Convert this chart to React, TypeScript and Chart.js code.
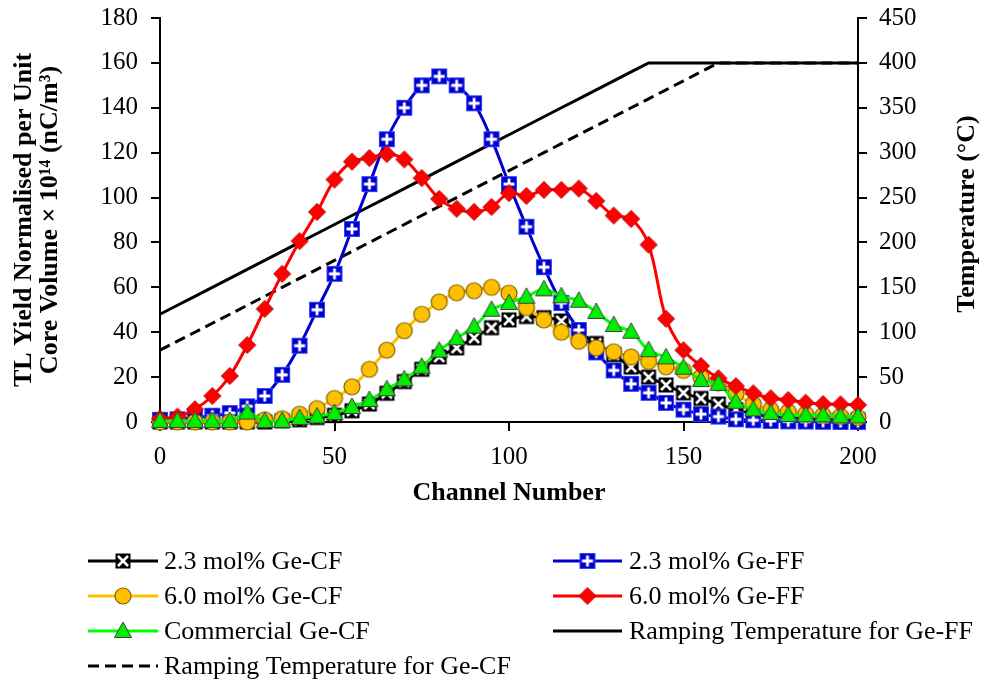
import React, { useEffect, useRef } from 'react';
import { Chart, registerables } from 'chart.js';

Chart.register(...registerables);

// ---------------- data ----------------
const channels = [0, 5, 10, 15, 20, 25, 30, 35, 40, 45, 50, 55, 60, 65, 70, 75, 80, 85, 90, 95, 100,
  105, 110, 115, 120, 125, 130, 135, 140, 145, 150, 155, 160, 165, 170, 175, 180, 185, 190, 195, 200];

const ge23CF = [0, 0, 0, 0, 0, 0, 0, 0.5, 1, 2, 3, 5, 8, 12.8, 18, 23.5, 29, 33, 37.5, 42, 45.5,
  47, 46.5, 45, 40, 35, 30, 24.5, 20, 16.5, 13, 10.5, 8, 5.5, 3.5, 2.5, 2, 1.5, 1, 1, 1];

const ge23FF = [1, 1.2, 2, 2.8, 4, 7, 11.6, 21, 34, 50, 66, 86, 106, 126, 140, 150, 154, 150, 142, 126, 106,
  87, 69, 53, 41, 31, 23, 17, 13, 8.5, 5.5, 3.5, 2.4, 1.2, 0.8, 0.5, 0.3, 0.2, 0.1, 0, 0];

const ge60CF = [0, 0, 0, 0, 0, 0, 1, 1.5, 3.5, 6, 10.5, 15.7, 23.5, 32, 40.7, 48, 53.5, 57.6, 58.5, 60, 57.4,
  51, 45.5, 40, 36, 33, 31.3, 29, 27, 24.6, 23, 20, 17.4, 12.5, 8, 5.5, 4.5, 3.5, 3, 2.5, 2];

const ge60FF = [1.5, 2.4, 5.7, 11.6, 20.5, 34.3, 50.4, 66, 80.6, 93.6, 108, 116, 117.6, 119.4, 117, 108.7, 99.4, 95, 93.6, 95.8, 102,
  100.7, 103.4, 103.4, 104, 98.5, 92, 90.5, 79, 46, 32, 25, 19.5, 16, 12.8, 10.6, 9.8, 8.6, 8, 7.9, 7.6];

const commercialCF = [0.5, 0.5, 0.5, 0.5, 0.5, 4.2, 0.5, 0.5, 1.8, 2.5, 4, 6.7, 9.8, 14.6, 19, 24.6, 31.8, 37.3, 42.5, 50, 53,
  55.8, 59.1, 56, 54, 49, 43.2, 40.2, 32, 28.8, 24.2, 18.7, 17, 9, 5.6, 4, 3.1, 3, 3, 2.5, 2.5];

const rampFF = [120, 130, 140, 150, 160, 170, 180, 190, 200, 210, 220, 230, 240, 250, 260, 270, 280, 290, 300, 310, 320,
  330, 340, 350, 360, 370, 380, 390, 400, 400, 400, 400, 400, 400, 400, 400, 400, 400, 400, 400, 400];

const rampCF = [80, 90, 100, 110, 120, 130, 140, 150, 160, 170, 180, 190, 200, 210, 220, 230, 240, 250, 260, 270, 280,
  290, 300, 310, 320, 330, 340, 350, 360, 370, 380, 390, 400, 400, 400, 400, 400, 400, 400, 400, 400];

const seriesLabels = [
  '2.3 mol% Ge-CF',
  '2.3 mol% Ge-FF',
  '6.0 mol% Ge-CF',
  '6.0 mol% Ge-FF',
  'Commercial Ge-CF',
  'Ramping Temperature for Ge-FF',
  'Ramping Temperature for Ge-CF',
];

const xAxisTitle = 'Channel Number';
const yAxisTitle = ['TL Yield Normalised per Unit', 'Core Volume × 10¹⁴ (nC/m³)'];
const y2AxisTitle = 'Temperature (°C)';

// ---------------- styling ----------------
const FONT = "'Liberation Serif', 'Times New Roman', serif";

function makeMarker(kind: string): HTMLCanvasElement {
  const s = 22;
  const c = document.createElement('canvas');
  c.width = s;
  c.height = s;
  const g = c.getContext('2d') as CanvasRenderingContext2D;
  const m = s / 2;
  g.lineJoin = 'miter';
  if (kind === 'xbox') {
    const h = 7.5;
    g.fillStyle = '#000';
    g.fillRect(m - h, m - h, 2 * h, 2 * h);
    g.strokeStyle = '#fff';
    g.lineWidth = 2.6;
    g.beginPath();
    g.moveTo(m - h + 2.5, m - h + 2.5);
    g.lineTo(m + h - 2.5, m + h - 2.5);
    g.moveTo(m + h - 2.5, m - h + 2.5);
    g.lineTo(m - h + 2.5, m + h - 2.5);
    g.stroke();
  } else if (kind === 'plusbox') {
    const h = 8;
    g.fillStyle = '#0000CC';
    g.fillRect(m - h, m - h, 2 * h, 2 * h);
    g.strokeStyle = '#3344ff';
    g.lineWidth = 1;
    g.strokeRect(m - h + 0.5, m - h + 0.5, 2 * h - 1, 2 * h - 1);
    g.strokeStyle = '#fff';
    g.lineWidth = 2.8;
    g.beginPath();
    g.moveTo(m - 5.5, m);
    g.lineTo(m + 5.5, m);
    g.moveTo(m, m - 5.5);
    g.lineTo(m, m + 5.5);
    g.stroke();
  } else if (kind === 'circle') {
    g.fillStyle = '#FFC000';
    g.strokeStyle = '#7F6000';
    g.lineWidth = 1.2;
    g.beginPath();
    g.arc(m, m, 8, 0, Math.PI * 2);
    g.fill();
    g.stroke();
  } else if (kind === 'diamond') {
    const h = 8.5;
    g.fillStyle = '#FF0000';
    g.strokeStyle = '#B00000';
    g.lineWidth = 1;
    g.beginPath();
    g.moveTo(m, m - h);
    g.lineTo(m + h, m);
    g.lineTo(m, m + h);
    g.lineTo(m - h, m);
    g.closePath();
    g.fill();
    g.stroke();
  } else if (kind === 'triangle') {
    g.fillStyle = '#00EE00';
    g.strokeStyle = '#404040';
    g.lineWidth = 1;
    g.beginPath();
    g.moveTo(m, m - 9);
    g.lineTo(m + 8.5, m + 6.5);
    g.lineTo(m - 8.5, m + 6.5);
    g.closePath();
    g.fill();
    g.stroke();
  }
  return c;
}

function toXY(values: number[]) {
  return channels.map((x, i) => ({ x, y: values[i] }));
}

// legend grid positions
const legendCols = [
  { lineStart: 88, lineEnd: 158, text: 164 },
  { lineStart: 553, lineEnd: 622, text: 629 },
];
const legendRows = [561, 596, 631, 666];

const legendPlugin = {
  id: 'gridLegend',
  afterDraw(chart: any) {
    const ctx = chart.ctx as CanvasRenderingContext2D;
    const ds = chart.data.datasets;
    ctx.save();
    ds.forEach((d: any, i: number) => {
      const col = legendCols[i % 2];
      const y = legendRows[Math.floor(i / 2)];
      ctx.strokeStyle = d.borderColor;
      ctx.lineWidth = 3;
      ctx.setLineDash(d.borderDash || []);
      ctx.beginPath();
      ctx.moveTo(col.lineStart, y);
      ctx.lineTo(col.lineEnd, y);
      ctx.stroke();
      ctx.setLineDash([]);
      if (d.pointStyle && typeof d.pointStyle !== 'string') {
        const img = d.pointStyle as HTMLCanvasElement;
        const mx = (col.lineStart + col.lineEnd) / 2;
        ctx.drawImage(img, mx - img.width / 2, y - img.height / 2);
      }
      ctx.fillStyle = '#000';
      ctx.font = `26px ${FONT}`;
      ctx.textAlign = 'left';
      ctx.textBaseline = 'middle';
      ctx.fillText(d.label, col.text, y + 1);
    });
    // right axis title, reading bottom-to-top
    ctx.translate(967, 214);
    ctx.rotate(-Math.PI / 2);
    ctx.font = `bold 26px ${FONT}`;
    ctx.textAlign = 'center';
    ctx.textBaseline = 'middle';
    ctx.fillText(y2AxisTitle, 0, 0);
    ctx.restore();
  },
};

export default function App() {
  const ref = useRef<HTMLCanvasElement | null>(null);

  useEffect(() => {
    if (!ref.current) return;
    const markers = {
      xbox: makeMarker('xbox'),
      plusbox: makeMarker('plusbox'),
      circle: makeMarker('circle'),
      diamond: makeMarker('diamond'),
      triangle: makeMarker('triangle'),
    };
    const lineBase = {
      borderWidth: 3,
      tension: 0.35,
      clip: false as any,
      pointRadius: 8,
      yAxisID: 'y',
    };
    const chart = new Chart(ref.current, {
      type: 'line',
      data: {
        datasets: [
          { ...lineBase, label: seriesLabels[0], data: toXY(ge23CF), borderColor: '#000000', pointStyle: markers.xbox, order: 5 },
          { ...lineBase, label: seriesLabels[1], data: toXY(ge23FF), borderColor: '#0000CC', pointStyle: markers.plusbox, order: 4 },
          { ...lineBase, label: seriesLabels[2], data: toXY(ge60CF), borderColor: '#FFC000', pointStyle: markers.circle, order: 3 },
          { ...lineBase, label: seriesLabels[3], data: toXY(ge60FF), borderColor: '#FF0000', pointStyle: markers.diamond, order: 2 },
          { ...lineBase, label: seriesLabels[4], data: toXY(commercialCF), borderColor: '#00FF00', pointStyle: markers.triangle, order: 1 },
          { label: seriesLabels[5], data: toXY(rampFF), borderColor: '#000000', borderWidth: 3, pointRadius: 0, tension: 0, yAxisID: 'y1', order: 6, clip: false as any },
          { label: seriesLabels[6], data: toXY(rampCF), borderColor: '#000000', borderWidth: 3, borderDash: [11, 6], pointRadius: 0, tension: 0, yAxisID: 'y1', order: 7, clip: false as any },
        ] as any,
      },
      options: {
        responsive: false,
        animation: false,
        layout: { padding: { top: 18, bottom: 173, left: 0, right: 0 } },
        plugins: {
          legend: { display: false },
          tooltip: { enabled: false },
        },
        elements: { point: { hoverRadius: 8 } },
        scales: {
          x: {
            type: 'linear',
            min: 0,
            max: 200,
            ticks: { stepSize: 50, color: '#000', font: { family: FONT, size: 25 }, padding: 11, maxRotation: 0 },
            grid: { drawOnChartArea: false, color: '#000', lineWidth: 2, tickLength: 9 },
            border: { color: '#000', width: 2 },
            title: {
              display: true,
              text: xAxisTitle,
              color: '#000',
              font: { family: FONT, size: 26, weight: 'bold', lineHeight: 1 },
              padding: { top: 0, bottom: 1 },
            },
            afterFit: (s: any) => { s.height = 85; s.paddingLeft = 0; s.paddingRight = 0; },
          },
          y: {
            type: 'linear',
            position: 'left',
            min: 0,
            max: 180,
            ticks: { stepSize: 20, color: '#000', font: { family: FONT, size: 25 }, padding: 13 },
            grid: { drawOnChartArea: false, color: '#000', lineWidth: 2, tickLength: 9 },
            border: { color: '#000', width: 2 },
            title: {
              display: true,
              text: yAxisTitle,
              color: '#000',
              font: { family: FONT, size: 26, weight: 'bold', lineHeight: 1 },
              padding: { top: 11, bottom: 0 },
            },
            afterFit: (s: any) => { s.width = 160; s.paddingTop = 0; s.paddingBottom = 0; },
          },
          y1: {
            type: 'linear',
            position: 'right',
            min: 0,
            max: 450,
            ticks: { stepSize: 50, color: '#000', font: { family: FONT, size: 25 }, padding: 12 },
            grid: { drawOnChartArea: false, color: '#000', lineWidth: 2, tickLength: 9 },
            border: { color: '#000', width: 2 },
            afterFit: (s: any) => { s.width = 126; s.paddingTop = 0; s.paddingBottom = 0; },
          },
        },
      } as any,
      plugins: [legendPlugin],
    });
    return () => chart.destroy();
  }, []);

  return (
    <div style={{ position: 'fixed', left: 0, top: 0, width: 984, height: 680, background: '#fff' }}>
      <canvas ref={ref} width={984} height={680} style={{ display: 'block', width: 984, height: 680 }} />
    </div>
  );
}
